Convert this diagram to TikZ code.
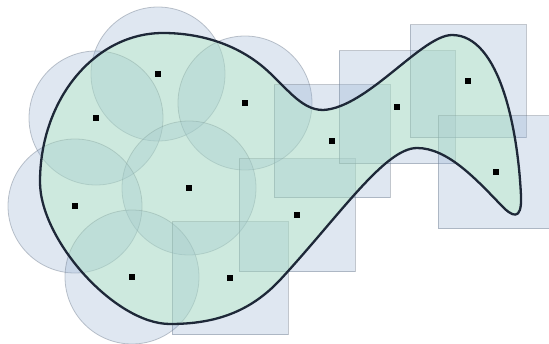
\documentclass[tikz,border=0pt]{standalone}
\begin{document}
\begin{tikzpicture}[x=1pt,y=-1pt,
  covfill/.style={fill={rgb,255:red,148;green,175;blue,208},fill opacity=0.3,
     draw={rgb,255:red,100;green,112;blue,130},draw opacity=0.4,line width=0.8pt},
  dot/.style={fill=black,inner sep=0pt,minimum size=6pt,rectangle,draw=none},
  region/.style={fill={rgb,255:red,178;green,236;blue,194},fill opacity=0.4},
  outline/.style={draw={rgb,255:red,30;green,40;blue,56},line width=2.3pt,line join=round}]
\useasboundingbox (0,0) rectangle (549,343);
\clip (0,0) rectangle (549,343);
\def\shapepath{(163,33) .. controls (95,33) and (40,99) .. (40,182)
  .. controls (40,240) and (115,324) .. (170,324)
  .. controls (215,324) and (250,312) .. (280,280)
  .. controls (340,215) and (385,148) .. (417,148)
  .. controls (447,148) and (475,178) .. (500,204)
  .. controls (512,217) and (522,222) .. (521,196)
  .. controls (518,130) and (500,35) .. (452,35)
  .. controls (422,35) and (367,108) .. (323,110)
  .. controls (300,110) and (285,85) .. (262,66)
  .. controls (235,44) and (200,33) .. cycle}
% points
\node[dot] (p1) at (158,74) {};
\node[dot] (p2) at (96,118) {};
\node[dot] (p3) at (245,103) {};
\node[dot] (p4) at (189,188) {};
\node[dot] (p5) at (75,206) {};
\node[dot] (p6) at (132,277) {};
\node[dot] (p7) at (230,278) {};
\node[dot] (p8) at (297,215) {};
\node[dot] (p9) at (332,141) {};
\node[dot] (p10) at (397,107) {};
\node[dot] (p11) at (468,81) {};
\node[dot] (p12) at (496,172) {};
% coverage disks
\foreach \p in {p1,p2,p3,p4,p5,p6}
  \path[covfill] (\p) circle[radius=67];
% coverage squares
\foreach \p in {p7,p8,p9,p10,p11,p12}
  \path[covfill] ([shift={(-58,-56.5)}]\p.center) rectangle ([shift={(58,56.5)}]\p.center);
\fill[region] \shapepath;
\draw[outline] \shapepath;
\foreach \p in {p1,p2,p3,p4,p5,p6,p7,p8,p9,p10,p11,p12}
  \node[dot] at (\p) {};
\end{tikzpicture}
\end{document}
